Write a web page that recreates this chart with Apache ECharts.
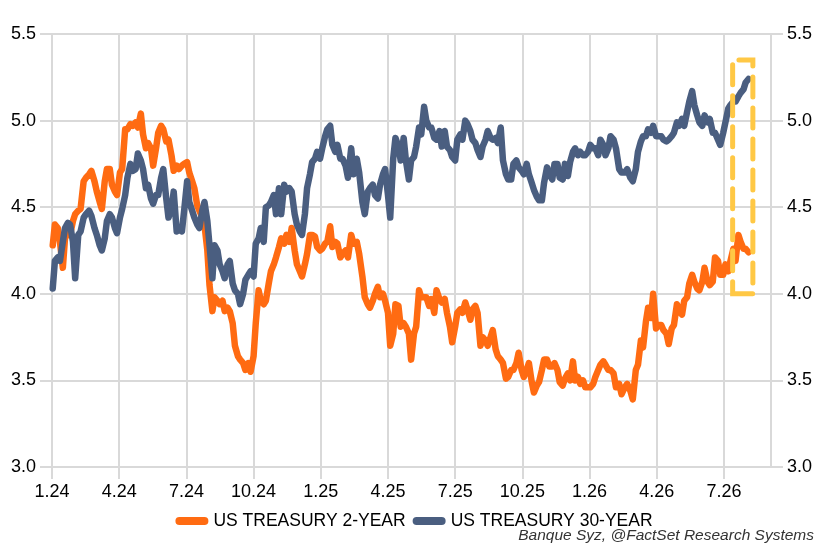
<!DOCTYPE html>
<html>
<head>
<meta charset="utf-8">
<script src="https://cdn.jsdelivr.net/npm/echarts@6/dist/echarts.min.js"></script>
<style>
  html, body { margin: 0; padding: 0; background: #fff; }
  #chart { width: 828px; height: 559px; }
</style>
</head>
<body>
<div id="chart"></div>
<script>
// quarter tick labels, one every 3 months starting Jan 2024
const quarterLabels = ['1.24', '4.24', '7.24', '10.24', '1.25', '4.25', '7.25', '10.25', '1.26', '4.26', '7.26'];

// twice-weekly observations (Tuesday / Friday), first one on 2024-01-02
const firstDate = '2024-01-02';

const twoYear = [
  4.28, 4.40, 4.38, 4.30, 4.15, 4.32, 4.36, 4.34, 4.42, 4.46,
  4.48, 4.49, 4.65, 4.67, 4.69, 4.71, 4.65, 4.59, 4.53, 4.49,
  4.65, 4.72, 4.72, 4.63, 4.59, 4.57, 4.70, 4.72, 4.95, 4.95,
  4.98, 4.97, 4.99, 4.96, 5.04, 4.92, 4.84, 4.87, 4.84, 4.74,
  4.84, 4.93, 4.97, 4.95, 4.88, 4.89, 4.80, 4.71, 4.74, 4.72,
  4.74, 4.75, 4.76, 4.70, 4.65, 4.61, 4.51, 4.48, 4.44, 4.40,
  4.25, 4.05, 3.90, 3.98, 3.96, 3.94, 3.96, 3.90,
  3.92, 3.90, 3.83, 3.70, 3.64, 3.62, 3.60, 3.56, 3.60, 3.55,
  3.64, 3.83, 4.02, 3.96, 3.94, 3.96, 4.06, 4.13, 4.17, 4.21,
  4.27, 4.32, 4.29, 4.34, 4.30, 4.38, 4.25, 4.17, 4.13, 4.10,
  4.17, 4.23, 4.34, 4.34, 4.33, 4.27, 4.25, 4.26, 4.29, 4.30,
  4.39, 4.27, 4.30, 4.29, 4.21, 4.23, 4.25, 4.21, 4.34, 4.29,
  4.30, 4.23, 4.10, 3.98, 3.94, 3.92, 3.96, 4.00, 4.04, 3.98,
  4.00, 3.96, 3.89, 3.70, 3.77, 3.94,
  3.93, 3.81, 3.83, 3.81, 3.77, 3.62, 3.77, 3.81, 4.02, 3.98,
  3.98, 3.98, 3.93, 3.97, 3.89, 4.02, 3.97, 3.95, 3.97, 3.89,
  3.81, 3.72, 3.81, 3.89, 3.91, 3.89, 3.95, 3.91, 3.85, 3.91,
  3.93, 3.89, 3.70, 3.75, 3.73, 3.70, 3.75, 3.79, 3.68, 3.64,
  3.62, 3.60, 3.51, 3.52, 3.56, 3.56, 3.60, 3.66, 3.56, 3.52,
  3.56, 3.60, 3.49, 3.43, 3.47, 3.49, 3.56, 3.62, 3.62, 3.58,
  3.58, 3.60, 3.56, 3.49, 3.47, 3.51,
  3.54, 3.50, 3.61, 3.50, 3.52, 3.48, 3.50, 3.46, 3.46, 3.46,
  3.48, 3.52, 3.56, 3.59, 3.61, 3.59, 3.56, 3.56, 3.54, 3.46,
  3.48, 3.42, 3.46, 3.48, 3.44, 3.39, 3.56, 3.59, 3.73, 3.69,
  3.84, 3.92, 3.86, 4.00, 3.80, 3.82, 3.82, 3.79, 3.77, 3.71,
  3.80, 3.82, 3.94, 3.90, 3.88, 3.96, 3.98, 4.06, 4.11, 4.07,
  4.03, 4.02, 4.07, 4.15, 4.07, 4.05, 4.07, 4.21, 4.19, 4.11,
  4.11, 4.17, 4.13, 4.19, 4.26, 4.19, 4.34, 4.30, 4.26, 4.26,
  4.24
];

const thirtyYear = [
  4.03, 4.19, 4.21, 4.19, 4.30, 4.38, 4.41, 4.40, 4.30, 4.09,
  4.34, 4.36, 4.44, 4.46, 4.48, 4.45, 4.38, 4.34, 4.28, 4.25,
  4.32, 4.42, 4.46, 4.44, 4.38, 4.35, 4.44, 4.49, 4.57, 4.67,
  4.75, 4.71, 4.72, 4.81, 4.77, 4.72, 4.61, 4.63, 4.55, 4.52,
  4.57, 4.57, 4.67, 4.72, 4.55, 4.44, 4.49, 4.59, 4.36, 4.37,
  4.36, 4.48, 4.65, 4.53, 4.48, 4.44, 4.40, 4.38, 4.48, 4.53,
  4.42, 4.28, 4.09, 4.28, 4.25, 4.17, 4.13, 4.09,
  4.17, 4.19, 4.06, 4.02, 4.00, 3.94, 4.00, 4.08, 4.11, 4.13,
  4.10, 4.29, 4.32, 4.38, 4.30, 4.50, 4.51, 4.53, 4.57, 4.46,
  4.61, 4.46, 4.63, 4.59, 4.61, 4.59, 4.46, 4.40, 4.36, 4.34,
  4.46, 4.61, 4.69, 4.76, 4.78, 4.82, 4.78, 4.84, 4.91, 4.95,
  4.97, 4.86, 4.82, 4.86, 4.78, 4.78, 4.74, 4.67, 4.84, 4.69,
  4.78, 4.70, 4.53, 4.46, 4.59, 4.61, 4.63, 4.57, 4.55, 4.63,
  4.69, 4.72, 4.57, 4.44, 4.78, 4.90,
  4.85, 4.77, 4.90, 4.77, 4.66, 4.77, 4.79, 4.85, 4.96, 4.92,
  5.08, 5.00, 4.96, 4.96, 4.90, 4.89, 4.94, 4.85, 4.94, 4.85,
  4.83, 4.79, 4.77, 4.89, 4.92, 4.89, 5.00, 4.98, 4.94, 4.89,
  4.87, 4.83, 4.79, 4.85, 4.89, 4.94, 4.90, 4.89, 4.90, 4.87,
  4.96, 4.77, 4.69, 4.66, 4.66, 4.75, 4.77, 4.73, 4.71, 4.69,
  4.75, 4.69, 4.64, 4.60, 4.56, 4.54, 4.54, 4.64, 4.73, 4.69,
  4.66, 4.75, 4.75, 4.67, 4.66, 4.75,
  4.68, 4.76, 4.82, 4.84, 4.80, 4.82, 4.80, 4.80, 4.82, 4.86,
  4.84, 4.84, 4.80, 4.89, 4.86, 4.80, 4.84, 4.91, 4.89, 4.84,
  4.72, 4.70, 4.70, 4.72, 4.67, 4.65, 4.72, 4.82, 4.88, 4.91,
  4.91, 4.95, 4.93, 4.97, 4.91, 4.91, 4.91, 4.89, 4.88, 4.89,
  4.91, 4.93, 4.99, 4.97, 5.01, 4.97, 5.05, 5.11, 5.17, 5.09,
  5.03, 4.99, 4.97, 5.03, 4.99, 5.01, 4.93, 4.93, 4.89, 4.86,
  4.93, 4.99, 5.07, 5.09, 5.11, 5.11, 5.14, 5.16, 5.18, 5.22,
  5.24
];

// highlighted window (dashed box): [date, yield]
const highlightFrom = ['2026-07-13', 4.0];
const highlightTo = ['2026-08-10', 5.35];

const orange = '#FF6B12';
const slate = '#4A5E80';
const gridGrey = '#D9D9D9';
const fontFamily = 'Liberation Sans, Arial, sans-serif';

// months since Jan 2024 (fractional), so quarter gridlines land exactly
function monthPos(dateStr) {
  const d = new Date(dateStr + 'T00:00:00Z');
  const y = d.getUTCFullYear();
  const m = d.getUTCMonth();
  const days = new Date(Date.UTC(y, m + 1, 0)).getUTCDate();
  return (y - 2024) * 12 + m + (d.getUTCDate() - 1) / days;
}

// Tuesday, Friday, Tuesday, ...
function obsDate(i) {
  const d = new Date(firstDate + 'T00:00:00Z');
  d.setUTCDate(d.getUTCDate() + 7 * Math.floor(i / 2) + (i % 2) * 3);
  return d.toISOString().slice(0, 10);
}

const dates = twoYear.map((_, i) => obsDate(i));
const quarterPos = quarterLabels.map((_, i) => i * 3);

const chart = echarts.init(document.getElementById('chart'), null, { renderer: 'canvas' });

const axisFont = { fontFamily, fontSize: 18, color: '#000' };

const yAxisBase = {
  type: 'value',
  min: 3,
  max: 5.5,
  interval: 0.5,
  axisLine: { show: true, lineStyle: { color: gridGrey, width: 2 } },
  axisTick: { show: true, length: 12, lineStyle: { color: gridGrey, width: 2 } },
  axisLabel: Object.assign({ margin: 16, formatter: v => v.toFixed(1) }, axisFont)
};

const lineSeries = (name, values, color) => ({
  name,
  type: 'line',
  showSymbol: false,
  symbol: 'none',
  color,
  lineStyle: { width: 6.5, color, cap: 'round', join: 'round' },
  data: dates.map((d, i) => [monthPos(d), values[i]]),
  z: 3
});

chart.setOption({
  backgroundColor: '#fff',
  animation: false,
  grid: { left: 52, right: 57, top: 34, bottom: 92, containLabel: false },
  legend: {
    top: 507,
    left: 'center',
    itemWidth: 33,
    itemHeight: 8,
    itemGap: 7,
    icon: 'path://M4,0 L29,0 A4,4 0 0 1 29,8 L4,8 A4,4 0 0 1 4,0 Z',
    textStyle: { fontFamily, fontSize: 17.5, color: '#000' },
    data: ['US TREASURY 2-YEAR', 'US TREASURY 30-YEAR']
  },
  graphic: [{
    type: 'text',
    right: 14,
    top: 528,
    style: {
      text: 'Banque Syz, @FactSet Research Systems',
      fontFamily,
      fontStyle: 'italic',
      fontSize: 15.5,
      fill: '#333'
    }
  }],
  xAxis: {
    type: 'value',
    min: 0,
    max: 32.1,
    interval: 3,
    axisLine: { show: false },
    axisTick: { show: true, length: 12, lineStyle: { color: gridGrey, width: 2 }, customValues: quarterPos },
    axisLabel: Object.assign({
      margin: 16,
      customValues: quarterPos,
      formatter: v => quarterLabels[Math.round(v / 3)] || ''
    }, axisFont),
    splitLine: { show: true, lineStyle: { color: gridGrey, width: 2 } }
  },
  yAxis: [
    Object.assign({}, yAxisBase, {
      position: 'left',
      splitLine: { show: true, lineStyle: { color: gridGrey, width: 2 } }
    }),
    Object.assign({}, yAxisBase, {
      position: 'right',
      splitLine: { show: false }
    })
  ],
  series: [
    lineSeries('US TREASURY 2-YEAR', twoYear, orange),
    lineSeries('US TREASURY 30-YEAR', thirtyYear, slate),
    {
      name: 'highlight',
      type: 'line',
      data: [],
      z: 6,
      silent: true,
      markArea: {
        silent: true,
        z: 6,
        itemStyle: {
          color: 'rgba(0,0,0,0)',
          borderColor: '#FFC845',
          borderWidth: 5,
          borderType: [20, 11],
          borderCap: 'round'
        },
        data: [[
          { xAxis: monthPos(highlightFrom[0]), yAxis: highlightFrom[1] },
          { xAxis: monthPos(highlightTo[0]), yAxis: highlightTo[1] }
        ]]
      }
    }
  ]
});
</script>
</body>
</html>
